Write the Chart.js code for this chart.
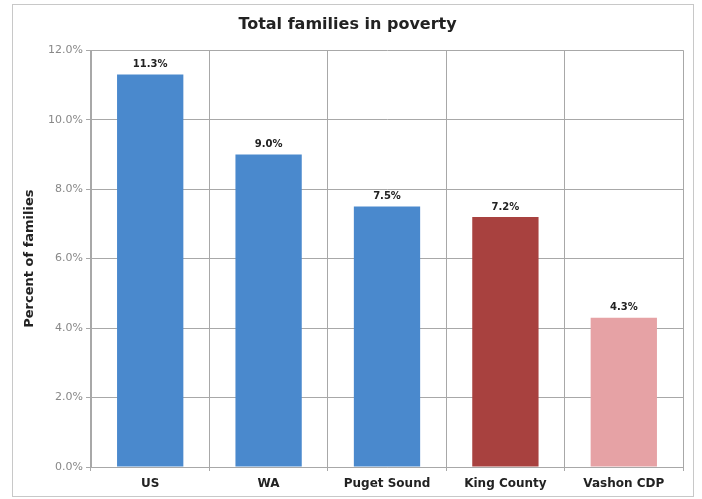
<!DOCTYPE html>
<html>
<head>
<meta charset="utf-8">
<script src="https://cdn.jsdelivr.net/npm/chart.js@4/dist/chart.umd.min.js"></script>
<style>
  html, body { margin: 0; padding: 0; background: #fff; }
</style>
</head>
<body>
<canvas id="myChart" width="702" height="499"></canvas>
<script>
let labels = ["US", "WA", "Puget Sound", "King County", "Vashon CDP"];
let values = [11.3, 9.0, 7.5, 7.2, 4.3];
let barColors = ["#4a89cd", "#4a89cd", "#4a89cd", "#a8413f", "#e6a2a5"];
let yTicks = [0, 2, 4, 6, 8, 10, 12];

// light frame around the whole chart
const frame = {
    id: "frame",
    beforeDraw(chart) {
        const ctx = chart.ctx;
        ctx.save();
        ctx.fillStyle = "#fff";
        ctx.fillRect(0, 0, chart.width, chart.height);
        ctx.strokeStyle = "#c8c8c8";
        ctx.lineWidth = 1;
        ctx.strokeRect(12.5, 4.5, 681, 492);
        ctx.restore();
    }
};

// percent labels on top of the bars
const valueLabels = {
    id: "valueLabels",
    afterDatasetsDraw(chart) {
        const ctx = chart.ctx;
        const meta = chart.getDatasetMeta(0);
        ctx.save();
        ctx.font = "bold 10px 'DejaVu Sans'";
        ctx.fillStyle = "#222";
        ctx.textAlign = "center";
        ctx.textBaseline = "bottom";
        meta.data.forEach((bar, i) => {
            ctx.fillText(values[i].toFixed(1) + "%", bar.x, bar.y - 5);
        });
        ctx.restore();
    }
};

new Chart(document.getElementById("myChart"), {
    type: "bar",
    data: {
        labels: labels,
        datasets: [
            {
                label: "Percent of families",
                backgroundColor: barColors,
                data: values,
                categoryPercentage: 1,
                barPercentage: 0.56
            }
        ]
    },
    options: {
        responsive: false,
        animation: false,
        layout: { padding: { left: 12, right: 19, top: 0, bottom: 4 } },
        plugins: {
            legend: { display: false },
            tooltip: { enabled: false },
            title: {
                display: true,
                text: "Total families in poverty",
                color: "#222",
                font: { family: "'DejaVu Sans'", size: 16, weight: "bold" },
                padding: { top: 15, bottom: 16 }
            }
        },
        scales: {
            x: {
                grid: { color: "#a8a8a8", tickLength: 4 },
                border: { color: "#a8a8a8" },
                ticks: {
                    color: "#222",
                    padding: 6,
                    font: { family: "'DejaVu Sans'", size: 12, weight: "bold" }
                },
                afterFit(scale) { scale.height = 28; }
            },
            y: {
                min: 0,
                max: 12,
                afterBuildTicks(scale) {
                    scale.ticks = yTicks.map(v => ({ value: v }));
                },
                grid: { color: "#a8a8a8", tickLength: 5 },
                border: { color: "#a8a8a8" },
                ticks: {
                    color: "#888",
                    padding: 3,
                    font: { family: "'DejaVu Sans'", size: 11 },
                    callback: v => v.toFixed(1) + "%"
                },
                title: {
                    display: true,
                    text: "Percent of families",
                    color: "#222",
                    font: { family: "'DejaVu Sans'", size: 13, weight: "bold" },
                    padding: { top: 10, bottom: 0 }
                },
                afterFit(scale) { scale.width = 79; }
            }
        }
    },
    plugins: [frame, valueLabels]
});
</script>
</body>
</html>
